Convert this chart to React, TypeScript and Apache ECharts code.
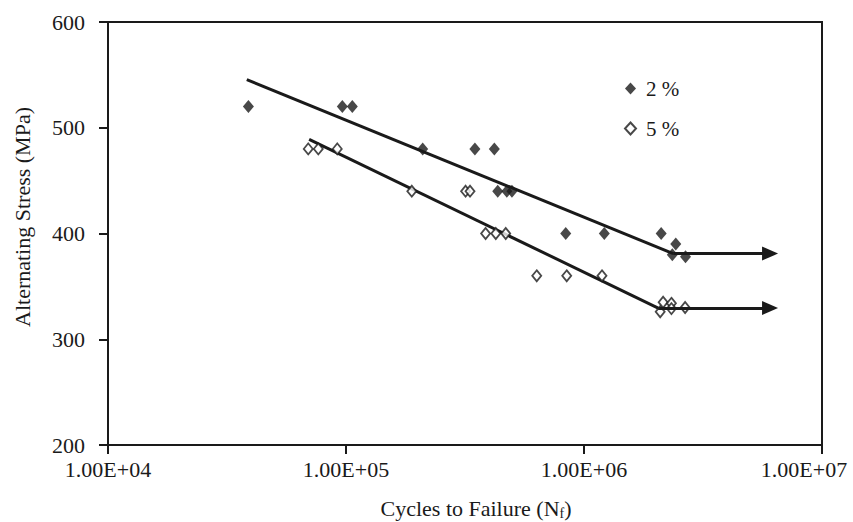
import React, { useEffect, useRef } from "react";
import * as echarts from "echarts";

// Fatigue data: [cycles to failure, alternating stress (MPa)]
const series2pct: [number, number][] = [
  [3.89e4, 520], [9.65e4, 520], [1.063e5, 520],
  [2.1e5, 480], [3.48e5, 480], [4.2e5, 480],
  [4.34e5, 440], [4.74e5, 440], [4.98e5, 440],
  [8.38e5, 400], [1.217e6, 400], [2.11e6, 400],
  [2.43e6, 390], [2.35e6, 380], [2.67e6, 378],
];
const series5pct: [number, number][] = [
  [6.94e4, 480], [7.65e4, 480], [9.19e4, 480],
  [1.89e5, 440], [3.18e5, 440], [3.32e5, 440],
  [3.86e5, 400], [4.26e5, 400], [4.69e5, 400],
  [6.33e5, 360], [8.46e5, 360], [1.19e6, 360],
  [2.15e6, 335], [2.09e6, 326], [2.33e6, 334], [2.33e6, 329], [2.66e6, 330],
];
// Fitted S-N lines (endpoints) and run-out arrows
const trend2pct: [number, number][] = [[3.83e4, 545.5], [2.37e6, 381]];
const trend5pct: [number, number][] = [[7.0e4, 489], [2.05e6, 329.5]];
const arrowTipX = 6.05e6;
const xTicks = [1e4, 1e5, 1e6, 1e7];
const yTicks = [200, 300, 400, 500, 600];
const seriesNames = ["2 %", "5 %"];
const xTitle = "Cycles to Failure (N{sub|f})";
const yTitle = "Alternating Stress (MPa)";

const FONT = "Liberation Serif";
const INK = "#1a1a1a";

export default function App() {
  const ref = useRef<HTMLDivElement>(null);
  useEffect(() => {
    if (!ref.current) return;
    const chart = echarts.init(ref.current, null, { renderer: "svg" });
    const maxTick = xTicks[xTicks.length - 1];
    const fmtX = (v: number) => {
      const e = Math.round(Math.log10(v));
      const s = "1.00E+" + (e < 10 ? "0" + e : String(e));
      return Math.abs(v - maxTick) / maxTick < 1e-6 ? "{last|" + s + "}" : s;
    };
    const arrow = (trend: [number, number][]) => ({
      silent: true,
      symbol: ["none", "triangle"],
      symbolSize: [14, 16],
      label: { show: false },
      lineStyle: { color: INK, width: 3, type: "solid" },
      data: [[
        { coord: [trend[1][0], trend[1][1]] },
        { coord: [arrowTipX, trend[1][1]] },
      ]],
    });
    chart.setOption({
      animation: false,
      backgroundColor: "#ffffff",
      textStyle: { fontFamily: FONT, color: INK },
      grid: {
        left: 108, top: 22, right: 31, bottom: 77,
        containLabel: false,
        outerBoundsMode: "none",
        show: true, borderColor: INK, borderWidth: 2,
      },
      legend: {
        data: seriesNames,
        orient: "vertical",
        left: 619, top: 73,
        itemGap: 19,
        itemWidth: 11, itemHeight: 12,
        textStyle: { fontFamily: FONT, fontSize: 21, color: INK, padding: [0, 0, 0, 5] },
      },
      graphic: [
        {
          type: "text",
          x: 476, y: 508,
          silent: true,
          style: {
            text: xTitle,
            fontFamily: FONT, fontSize: 22, fill: INK,
            textAlign: "center", textVerticalAlign: "middle",
            rich: { sub: { fontFamily: FONT, fontSize: 14, fill: INK, padding: [10, 0, 0, 0] } },
          },
        },
        {
          type: "text",
          x: 22, y: 217,
          rotation: Math.PI / 2,
          silent: true,
          style: {
            text: yTitle,
            fontFamily: FONT, fontSize: 22, fill: INK,
            textAlign: "center", textVerticalAlign: "middle",
          },
        },
      ],
      xAxis: {
        type: "log",
        logBase: 10,
        min: xTicks[0],
        max: maxTick,
        interval: 1,
        axisLine: { lineStyle: { color: INK, width: 2 } },
        axisTick: { show: true, length: 9, lineStyle: { color: INK, width: 2 } },
        minorTick: { show: false },
        splitLine: { show: false },
        axisLabel: {
          fontFamily: FONT, fontSize: 22, color: INK, margin: 13, formatter: fmtX,
          rich: { last: { fontFamily: FONT, fontSize: 22, color: INK, padding: [0, 36, 0, 0] } },
        },
      },
      yAxis: {
        type: "value",
        min: yTicks[0],
        max: yTicks[yTicks.length - 1],
        interval: 100,
        axisLine: { show: true, lineStyle: { color: INK, width: 2 } },
        axisTick: { show: true, length: 9, lineStyle: { color: INK, width: 2 } },
        splitLine: { show: false },
        axisLabel: { fontFamily: FONT, fontSize: 22, color: INK, margin: 23 },
      },
      series: [
        {
          name: "trend2",
          type: "line",
          data: trend2pct,
          symbol: "none",
          lineStyle: { color: INK, width: 3 },
          z: 2,
          markLine: arrow(trend2pct),
        },
        {
          name: "trend5",
          type: "line",
          data: trend5pct,
          symbol: "none",
          lineStyle: { color: INK, width: 3 },
          z: 2,
          markLine: arrow(trend5pct),
        },
        {
          name: seriesNames[0],
          type: "scatter",
          data: series2pct,
          symbol: "diamond",
          symbolSize: [11, 13],
          itemStyle: { color: INK },
          z: 3,
        },
        {
          name: seriesNames[1],
          type: "scatter",
          data: series5pct,
          symbol: "diamond",
          symbolSize: [9, 11],
          itemStyle: { color: "#ffffff", borderColor: INK, borderWidth: 1.8 },
          z: 3,
        },
      ],
    });
    return () => chart.dispose();
  }, []);
  return <div ref={ref} style={{ width: 853, height: 522, position: "absolute", left: 0, top: 0 }} />;
}
